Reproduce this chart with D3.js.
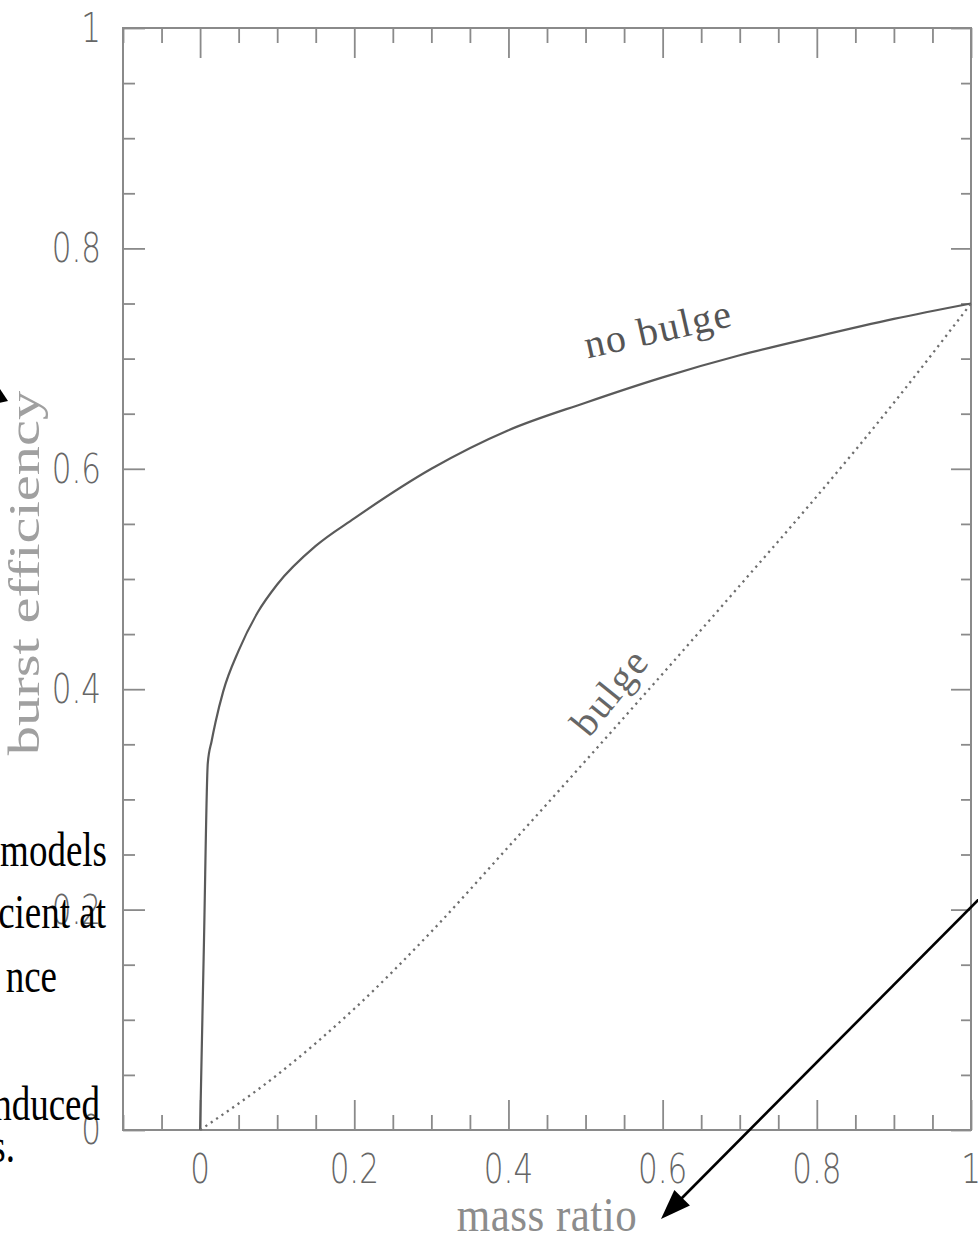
<!DOCTYPE html>
<html>
<head>
<meta charset="utf-8">
<script src="https://cdn.jsdelivr.net/npm/d3@7"></script>
<style>
  html, body { margin: 0; padding: 0; background: #fff; }
  svg { display: block; }
</style>
</head>
<body>
<svg id="chart" width="978" height="1237"></svg>
<script>
// ---------------- data ----------------
const massRatio   = [0, 0.005, 0.01, 0.015, 0.02, 0.03, 0.05, 0.075, 0.1, 0.15, 0.2, 0.3, 0.4, 0.5, 0.6, 0.7, 0.8, 0.9, 1.0];
const noBulgeEff  = [0, 0.17, 0.333, 0.353, 0.37, 0.398, 0.435, 0.47, 0.495, 0.53, 0.555, 0.60, 0.635, 0.66, 0.683, 0.703, 0.72, 0.736, 0.75];
const bulgeRatio  = [0, 0.1, 0.2, 0.3, 0.4, 0.5, 0.6, 0.7, 0.8, 0.9, 1.0];
const bulgeEff    = [0, 0.05, 0.11, 0.18, 0.257, 0.335, 0.414, 0.494, 0.575, 0.66, 0.75];
const xTickValues = [0, 0.2, 0.4, 0.6, 0.8, 1];
const xTickLabels = ["0", "0.2", "0.4", "0.6", "0.8", "1"];
const yTickValues = [0, 0.2, 0.4, 0.6, 0.8, 1];
const yTickLabels = ["0", "0.2", "0.4", "0.6", "0.8", "1"];
const xMinorStep  = 0.05;
const yMinorStep  = 0.05;
const xTitle = "mass ratio";
const yTitle = "burst efficiency";
const seriesLabels = ["no bulge", "bulge"];
const overlayLines = ["models", "cient at", "nce", "nduced", "s."];

// ---------------- layout ----------------
const svg = d3.select("#chart");
const L = 123, R = 971, T = 28, B = 1130;
const x = d3.scaleLinear().domain([-0.1, 1.0]).range([L, R]);
const y = d3.scaleLinear().domain([0, 1]).range([B, T]);

const axisColor = "#8a8a8a";
const tickFont = "'DejaVu Sans', 'Liberation Sans', sans-serif";

const xMinor = d3.range(-0.1, 1.0001, xMinorStep).map(v => +v.toFixed(3)).filter(v => !xTickValues.some(t => Math.abs(t - v) < 1e-6));
const yMinor = d3.range(0, 1.0001, yMinorStep).map(v => +v.toFixed(3)).filter(v => !yTickValues.some(t => Math.abs(t - v) < 1e-6));

function styleAxis(g) {
  g.select(".domain").remove();
  g.selectAll("line").attr("stroke", axisColor).attr("stroke-width", 1.8);
  g.selectAll("text").remove();
}

// ticks, inward on all four sides
svg.append("g").attr("transform", `translate(0,${B})`)
  .call(d3.axisBottom(x).tickValues(xTickValues).tickSize(-30)).call(styleAxis);
svg.append("g").attr("transform", `translate(0,${B})`)
  .call(d3.axisBottom(x).tickValues(xMinor).tickSize(-15)).call(styleAxis);
svg.append("g").attr("transform", `translate(0,${T})`)
  .call(d3.axisTop(x).tickValues(xTickValues).tickSize(-30)).call(styleAxis);
svg.append("g").attr("transform", `translate(0,${T})`)
  .call(d3.axisTop(x).tickValues(xMinor).tickSize(-15)).call(styleAxis);
svg.append("g").attr("transform", `translate(${L},0)`)
  .call(d3.axisLeft(y).tickValues(yTickValues).tickSize(-22)).call(styleAxis);
svg.append("g").attr("transform", `translate(${L},0)`)
  .call(d3.axisLeft(y).tickValues(yMinor).tickSize(-12)).call(styleAxis);
svg.append("g").attr("transform", `translate(${R},0)`)
  .call(d3.axisRight(y).tickValues(yTickValues).tickSize(-20)).call(styleAxis);
svg.append("g").attr("transform", `translate(${R},0)`)
  .call(d3.axisRight(y).tickValues(yMinor).tickSize(-10)).call(styleAxis);

// frame
svg.append("rect").attr("x", L).attr("y", T).attr("width", R - L).attr("height", B - T)
  .attr("fill", "none").attr("stroke", axisColor).attr("stroke-width", 2);

// text helper
function txt(o) {
  return svg.append("text")
    .attr("transform", `translate(${o.x},${o.y}) rotate(${o.rot || 0}) scale(${o.sx || 1},${o.sy || 1})`)
    .attr("text-anchor", o.anchor || "middle")
    .attr("font-family", o.family)
    .attr("font-size", o.size)
    .attr("font-weight", o.weight || "normal")
    .attr("letter-spacing", o.spacing || 0)
    .attr("fill", o.fill)
    .text(o.text);
}

// tick labels
xTickValues.forEach((v, i) => txt({x: x(v), y: 1183, text: xTickLabels[i], size: 31, sy: 1.3,
  family: tickFont, weight: 300, fill: "#666"}));
yTickValues.forEach((v, i) => txt({x: 101, y: y(v) + 14, text: yTickLabels[i], size: 31, sy: 1.3,
  family: tickFont, weight: 300, fill: "#666", anchor: "end"}));

// axis titles
txt({x: 547, y: 1231, text: xTitle, size: 43, sy: 1.15, spacing: 0.5, family: "'Liberation Serif', serif", fill: "#8c8c8c"});
txt({x: 39, y: 573, rot: -90, text: yTitle, size: 45, sx: 1.3, family: "'Liberation Serif', serif", fill: "#a0a0a0"});

// curves
const line = d3.line().x(d => x(d[0])).y(d => y(d[1])).curve(d3.curveMonotoneX);
svg.append("path").datum(massRatio.map((q, i) => [q, noBulgeEff[i]]))
  .attr("d", line).attr("fill", "none").attr("stroke", "#5a5a5a").attr("stroke-width", 2.2);
svg.append("path").datum(bulgeRatio.map((q, i) => [q, bulgeEff[i]]))
  .attr("d", line).attr("fill", "none").attr("stroke", "#6e6e6e").attr("stroke-width", 2.3)
  .attr("stroke-dasharray", "2.2,4.3");

// series labels
txt({x: 661, y: 342, rot: -12.6, text: seriesLabels[0], size: 40, spacing: 1.5, family: "'Liberation Serif', serif", fill: "#555"});
txt({x: 620, y: 700, rot: -51, text: seriesLabels[1], size: 40, spacing: 2, family: "'Liberation Serif', serif", fill: "#666"});

// overlay slide text (black, cropped at left)
const overlayPos = [[107, 866], [106, 928], [57, 992], [100, 1120], [15, 1162]];
overlayLines.forEach((t, i) => txt({x: overlayPos[i][0], y: overlayPos[i][1], text: t, size: 37, sy: 1.3,
  family: "'Liberation Serif', 'Times New Roman', serif", fill: "#000", anchor: "end"}));

// arrows (annotations)
const arrowLine = {x1: 990, y1: 888, x2: 676, y2: 1204};
svg.append("line").attr("x1", arrowLine.x1).attr("y1", arrowLine.y1).attr("x2", arrowLine.x2).attr("y2", arrowLine.y2)
  .attr("stroke", "#000").attr("stroke-width", 2.6);
const tip = [661, 1219], ang = Math.atan2(tip[1] - arrowLine.y1, tip[0] - arrowLine.x1);
const hl = 30, hw = 11;
const bx = tip[0] - hl * Math.cos(ang), by = tip[1] - hl * Math.sin(ang);
const p = d3.path();
p.moveTo(tip[0], tip[1]);
p.lineTo(bx + hw * Math.sin(ang), by - hw * Math.cos(ang));
p.lineTo(bx - hw * Math.sin(ang), by + hw * Math.cos(ang));
p.closePath();
svg.append("path").attr("d", p.toString()).attr("fill", "#000");

// partial arrowhead at left edge
const p2 = d3.path();
p2.moveTo(-6, 380);
p2.lineTo(8, 401);
p2.lineTo(-10, 405);
p2.closePath();
svg.append("path").attr("d", p2.toString()).attr("fill", "#000");
</script>
</body>
</html>
